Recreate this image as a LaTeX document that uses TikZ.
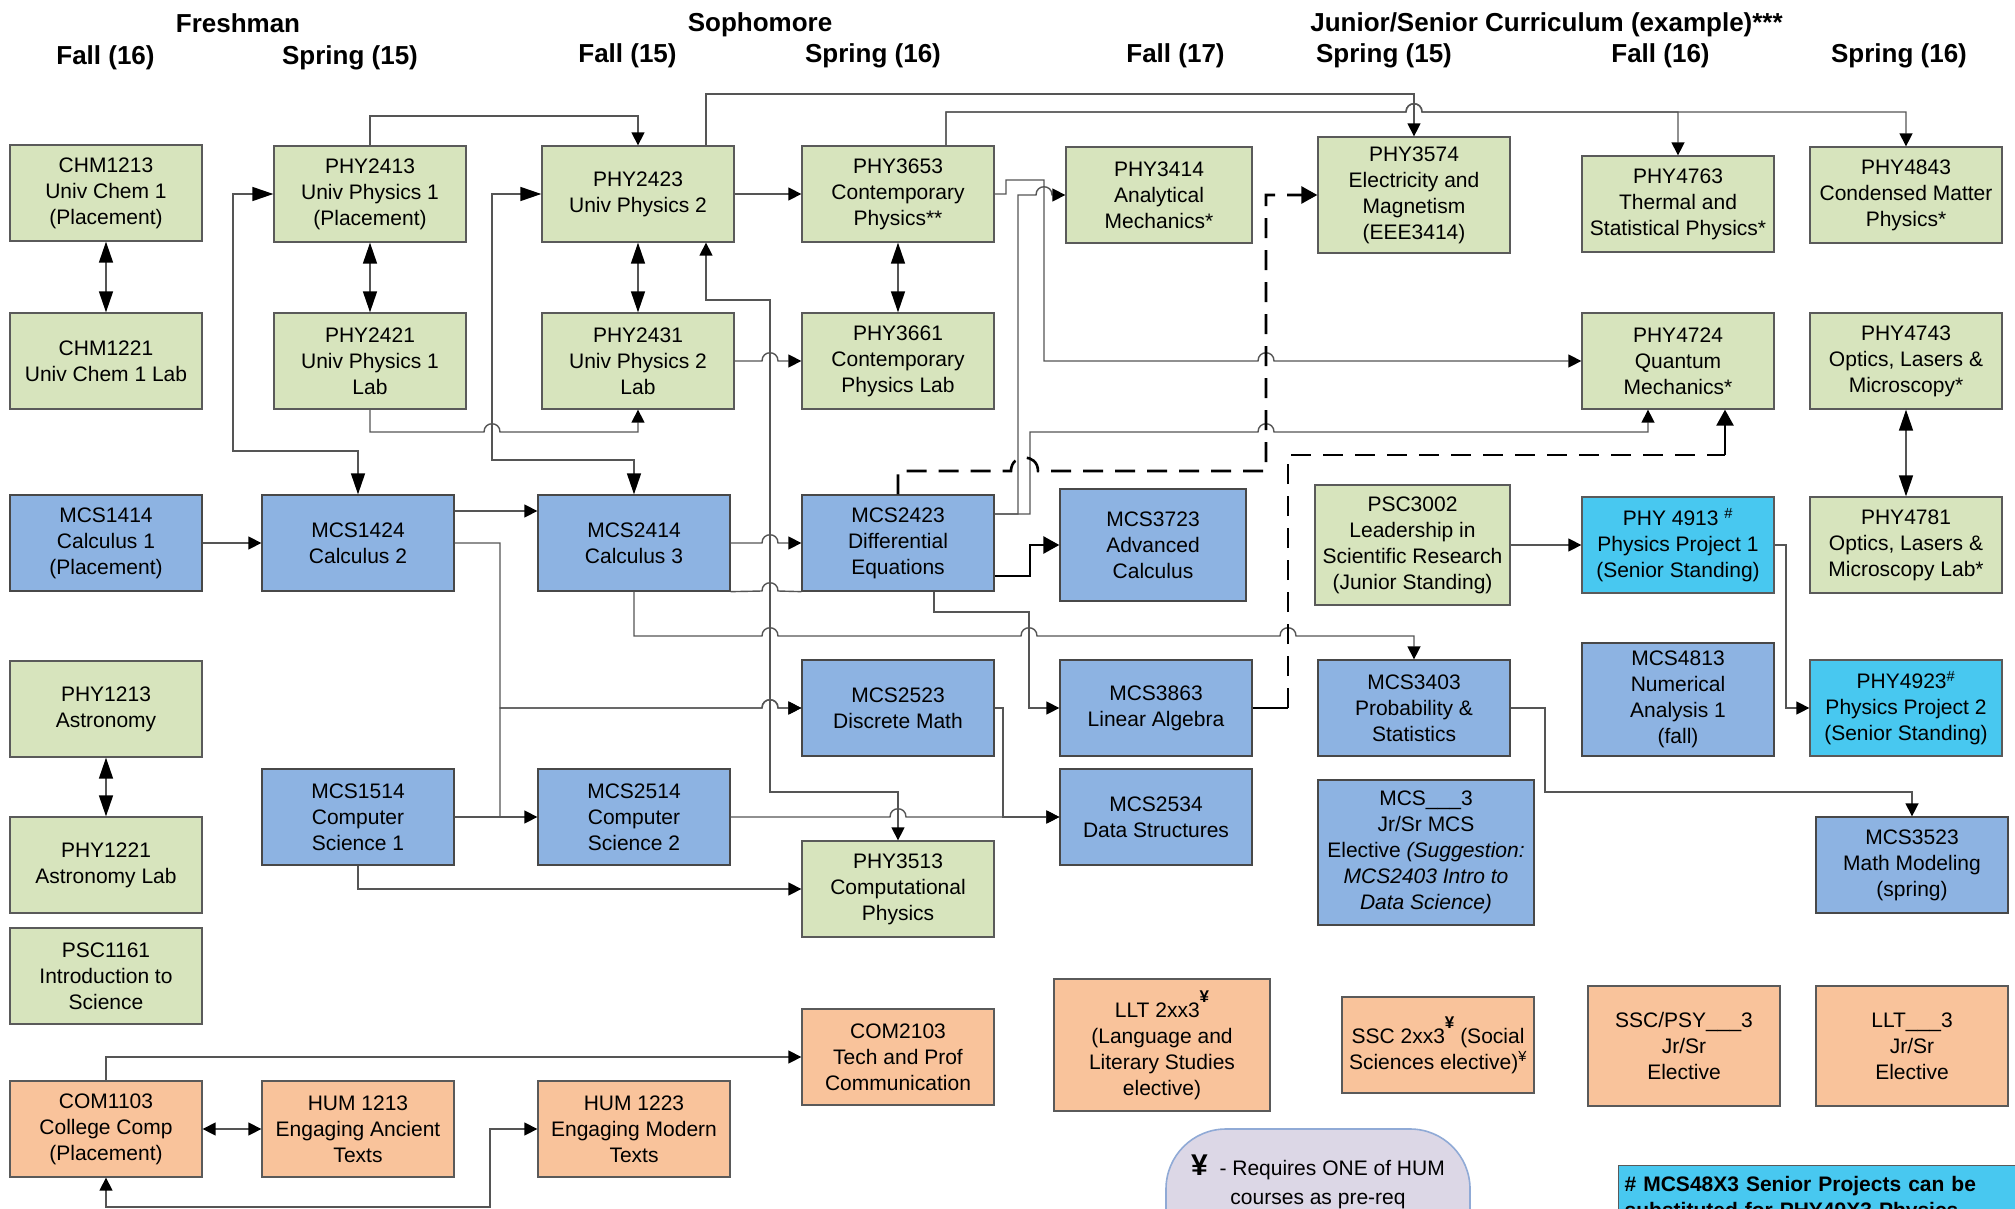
\documentclass[tikz,border=0pt]{standalone}
\usepackage{fontspec}
\setmainfont{Liberation Sans}
\usetikzlibrary{arrows.meta}
\definecolor{cgreen}{HTML}{D7E4BD}
\definecolor{cblue}{HTML}{8DB3E2}
\definecolor{ccyan}{HTML}{48C8F0}
\definecolor{corange}{HTML}{F9C39B}
\definecolor{clav}{HTML}{DCD7E6}
\definecolor{clavline}{HTML}{90AAD6}
\definecolor{boxline}{HTML}{5A5A5A}
\definecolor{lgray}{HTML}{555555}
\newcommand\bigyen{\raisebox{15pt}{\fontsize{17}{17}\selectfont\bfseries ¥}}
\begin{document}
\begin{tikzpicture}[x=1pt,y=-1pt,
  crs/.style={draw=boxline, line width=1.3pt, align=center, inner sep=0pt,
    font=\fontsize{21}{26}\selectfont, minimum width=192pt, minimum height=96pt},
  gbox/.style={crs, fill=cgreen},
  bbox/.style={crs, fill=cblue, draw=boxline!80!black},
  cbox/.style={crs, fill=ccyan},
  obox/.style={crs, fill=corange},
  hdr/.style={font=\fontsize{26}{30}\selectfont\bfseries, inner sep=0pt, anchor=base},
  wire/.style={draw=lgray, line width=1.4pt},
  cs/.style={wire, -{Triangle[length=13pt,width=13pt,color=black]}},
  cd/.style={wire, {Triangle[length=13pt,width=13pt,color=black]}-{Triangle[length=13pt,width=13pt,color=black]}},
  cl/.style={wire, {Triangle[length=21pt,width=14pt,color=black]}-{Triangle[length=21pt,width=14pt,color=black]}},
  ck/.style={draw=black, line width=2.6pt, -{Triangle[length=16pt,width=17pt]}},
  ckd/.style={ck, dash pattern=on 20pt off 12pt},
  hop/.style 2 args={insert path={-- (#1-8,#2) .. controls (#1-8,#2-11) and (#1+8,#2-11) .. (#1+8,#2)}},
  bighop/.style 2 args={insert path={-- (#1-13.5,#2) .. controls (#1-13.5,#2-18) and (#1+13.5,#2-18) .. (#1+13.5,#2)}},
]
\useasboundingbox (0,0) rectangle (2015,1209);
\clip (0,0) rectangle (2015,1209);
\fill[white] (0,0) rectangle (2015,1209);

% headers
\node[hdr] (hfresh) at (238,33) {Freshman};
\node[hdr] (hf1) at (105.5,65) {Fall (16)};
\node[hdr] (hs1) at (350,65) {Spring (15)};
\node[hdr] (hsoph) at (760,32) {Sophomore};
\node[hdr] (hf2) at (627.5,63) {Fall (15)};
\node[hdr] (hs2) at (873,63) {Spring (16)};
\node[hdr] (hf3) at (1175.5,63) {Fall (17)};
\node[hdr] (hs3) at (1384,63) {Spring (15)};
\node[hdr] (hjun) at (1546.5,32) {Junior/Senior Curriculum (example)***};
\node[hdr] (hf4) at (1660.5,63) {Fall (16)};
\node[hdr] (hs4) at (1899,63) {Spring (16)};

% courses
\node[gbox] (chm1213) at (106,193) {CHM1213\\Univ Chem 1\\(Placement)};
\node[gbox] (chm1221) at (106,361) {CHM1221\\Univ Chem 1 Lab};
\node[gbox] (phy2413) at (370,194) {PHY2413\\Univ Physics 1\\(Placement)};
\node[gbox] (phy2421) at (370,361) {PHY2421\\Univ Physics 1\\Lab};
\node[gbox] (phy2423) at (638,194) {PHY2423\\Univ Physics 2};
\node[gbox] (phy2431) at (638,361) {PHY2431\\Univ Physics 2\\Lab};
\node[gbox] (phy3653) at (898,194) {PHY3653\\Contemporary\\Physics**};
\node[gbox] (phy3661) at (898,361) {PHY3661\\Contemporary\\Physics Lab};
\node[gbox, minimum width=186pt] (phy3414) at (1159,195) {PHY3414\\Analytical\\Mechanics*};
\node[gbox, minimum height=116pt] (phy3574) at (1414,195) {PHY3574\\Electricity and\\Magnetism\\(EEE3414)};
\node[gbox] (phy4763) at (1678,204) {PHY4763\\Thermal and\\Statistical Physics*};
\node[gbox] (phy4843) at (1906,195) {PHY4843\\Condensed Matter\\Physics*};
\node[gbox] (phy4724) at (1678,361) {PHY4724\\Quantum\\Mechanics*};
\node[gbox] (phy4743) at (1906,361) {PHY4743\\Optics, Lasers \&\\Microscopy*};
\node[bbox] (mcs1414) at (106,543) {MCS1414\\Calculus 1\\(Placement)};
\node[bbox] (mcs1424) at (358,543) {MCS1424\\Calculus 2};
\node[bbox] (mcs2414) at (634,543) {MCS2414\\Calculus 3};
\node[bbox] (mcs2423) at (898,543) {MCS2423\\Differential\\Equations};
\node[bbox, minimum width=186pt, minimum height=112pt] (mcs3723) at (1153,545) {MCS3723\\Advanced\\Calculus};
\node[gbox, minimum width=195pt, minimum height=120pt] (psc3002) at (1412.5,545) {PSC3002\\Leadership in\\Scientific Research\\(Junior Standing)};
\node[cbox] (phy4913) at (1678,545) {PHY 4913 \textsuperscript{\#}\\Physics Project 1\\(Senior Standing)};
\node[gbox] (phy4781) at (1906,545) {PHY4781\\Optics, Lasers \&\\Microscopy Lab*};
\node[gbox] (phy1213) at (106,709) {PHY1213\\Astronomy};
\node[bbox] (mcs2523) at (898,708) {MCS2523\\Discrete Math};
\node[bbox] (mcs3863) at (1156,708) {MCS3863\\Linear Algebra};
\node[bbox] (mcs3403) at (1414,708) {MCS3403\\Probability \&\\Statistics};
\node[bbox, minimum height=113pt] (mcs4813) at (1678,699.5) {MCS4813\\Numerical\\Analysis 1\\(fall)};
\node[cbox] (phy4923) at (1906,708) {PHY4923\textsuperscript{\#}\\Physics Project 2\\(Senior Standing)};
\node[bbox] (mcs1514) at (358,817) {MCS1514\\Computer\\Science 1};
\node[bbox] (mcs2514) at (634,817) {MCS2514\\Computer\\Science 2};
\node[bbox] (mcs2534) at (1156,817) {MCS2534\\Data Structures};
\node[bbox, minimum width=216pt, minimum height=145pt] (mcsjr) at (1426,852.5) {MCS\_\_\_3\\Jr/Sr MCS\\Elective \textit{(Suggestion:}\\\textit{MCS2403 Intro to}\\\textit{Data Science)}};
\node[bbox] (mcs3523) at (1912,865) {MCS3523\\Math Modeling\\(spring)};
\node[gbox] (phy1221) at (106,865) {PHY1221\\Astronomy Lab};
\node[gbox] (phy3513) at (898,889) {PHY3513\\Computational\\Physics};
\node[gbox] (psc1161) at (106,976) {PSC1161\\Introduction to\\Science};
\node[obox, minimum width=216pt, minimum height=132pt] (llt2xx3) at (1162,1045) {LLT 2xx3\bigyen\\(Language and\\Literary Studies\\elective)};
\node[obox] (ssc2xx3) at (1438,1045) {SSC 2xx3\bigyen{} (Social\\Sciences elective)\textsuperscript{¥}};
\node[obox] (com2103) at (898,1057) {COM2103\\Tech and Prof\\Communication};
\node[obox, minimum height=120pt] (sscpsy) at (1684,1046) {SSC/PSY\_\_\_3\\Jr/Sr\\Elective};
\node[obox, minimum height=120pt] (lltjr) at (1912,1046) {LLT\_\_\_3\\Jr/Sr\\Elective};
\node[obox] (com1103) at (106,1129) {COM1103\\College Comp\\(Placement)};
\node[obox] (hum1213) at (358,1129) {HUM 1213\\Engaging Ancient\\Texts};
\node[obox] (hum1223) at (634,1129) {HUM 1223\\Engaging Modern\\Texts};

% legend and note
\node[draw=clavline, line width=1.6pt, fill=clav, rounded corners=60pt, minimum width=304pt, minimum height=150pt, inner sep=0pt] (legend) at (1318,1204) {};
\node[font=\fontsize{21}{29}\selectfont, align=center, inner sep=0pt] (legendtxt) at (1318,1182) {{\fontsize{30}{30}\selectfont\bfseries ¥}\ \ - Requires ONE of HUM\\courses as pre-req};
\node[draw=boxline, line width=1.3pt, fill=ccyan, anchor=north west, align=left, text width=420pt, inner xsep=6pt, inner ysep=11pt, font=\fontsize{21}{26}\selectfont\bfseries] (note) at (1618,1165) {\# MCS48X3 Senior Projects can be\\substituted for PHY49X3 Physics};

% connectors
\draw[cl] (chm1213) -- (chm1221);
\draw[cl] (phy2413) -- (phy2421);
\draw[cl] (phy2423) -- (phy2431);
\draw[cl] (phy3653) -- (phy3661);
\draw[cl] (phy4743) -- (phy4781);
\draw[cl] (phy1213) -- (phy1221);
\draw[cd] (com1103) -- (hum1213);
\draw[cs] (mcs1414) -- (mcs1424);
\draw[cs] (phy2413.north) |- (638,116) -- (phy2423.north);
\draw[cl] (phy2413.west) -| (233,451) -| (mcs1424.north);
\draw[cl] (phy2423.west) -| (492,460) -| (mcs2414.north);
\draw[cs] (phy2421.south) -- (370,432) [hop={492}{432}] -- (638,432) -- (phy2431.south);
\draw[cs] (phy2423) -- (phy3653);
\draw[cs] (phy2431.east) [hop={770}{361}] -- (phy3661.west);
\draw[cd] (phy2423.south -| 706,0) -- (706,300) -- (770,300) -- (770,792) -- (898,792) -- (phy3513.north);
\draw[cs] (mcs1424.east |- 0,511) -- (mcs2414.west |- 0,511);
\draw[cs] (mcs1424.east |- 0,543) -- (500,543) -- (500,708) [hop={770}{708}] -- (mcs2523.west);
\draw[cs] (mcs1514.east) -| (500,708) [hop={770}{708}] -- (mcs2523.west);
\draw[cs] (mcs1514) -- (mcs2514);
\draw[cs] (mcs1514.south) |- (phy3513.west);
\draw[cs] (mcs2514.east) [hop={898}{817}] -- (mcs2534.west);
\draw[cs] (mcs2523.east) -- (1003,708) -- (1003,817) -- (mcs2534.west);
\draw[cs] (mcs2414.east) [hop={770}{543}] -- (mcs2423.west);
\draw[wire] (mcs2414.south east) [hop={770}{591}] -- (mcs2423.south west);
\draw[cs] (mcs2414.south) -- (634,636) [hop={770}{636}] [hop={1029}{636}] [hop={1288}{636}] -- (1414,636) -- (mcs3403.north);
\draw[cs] (mcs2423.south -| 934,0) -- (934,612) -- (1029,612) -- (1029,708) -- (mcs3863.west);
\draw[cs] (mcs2423.east |- 0,514) -- (1018,514) -- (1018,195) [hop={1044}{195}] -- (phy3414.west);
\draw[cs] (mcs2423.east |- 0,514) -- (1030,514) -- (1030,432) [hop={1266}{432}] -- (1648,432) -- (phy4724.south -| 1648,0);
\draw[cs] (phy3653.east) -- (1006,194) -- (1006,180) -- (1044,180) -- (1044,361) [hop={1266}{361}] -- (phy4724.west);
\draw[ck] (mcs2423.east |- 0,576) -- (1030,576) -- (1030,545) -- (mcs3723.west);
\draw[cs] (phy2423.north -| 706,0) -- (706,94) -- (1414,94) -- (phy3574.north);
\draw[cs] (phy3653.north -| 946,0) -- (946,112) [hop={1414}{112}] -- (1678,112) -- (phy4763.north);
\draw[cs] (phy3653.north -| 946,0) -- (946,112) [hop={1414}{112}] -- (1906,112) -- (phy4843.north);
\draw[ckd] (mcs2423.north) -- (898,471) [bighop={1024.5}{471}] -- (1266,471) -- (1266,195) -- (phy3574.west);
\coordinate (dB) at (1288,708);
\coordinate (dC) at (1725,455);
\draw[ck, -] (mcs3863.east) -- (dB);
\draw[ck, -, dash pattern=on 20pt off 12pt] (dB) -- (1288,455) -- (dC);
\draw[ck] (dC) -- (phy4724.south -| dC);
\draw[cs] (psc3002) -- (phy4913);
\draw[cs] (phy4913.east) -- (1786,545) -- (1786,708) -- (phy4923.west);
\draw[cs] (mcs3403.east) -- (1545,708) -- (1545,792) -- (1912,792) -- (mcs3523.north);
\draw[cs] (com1103.north) |- (com2103.west);
\draw[cd] (com1103.south) -- (106,1207) -- (490,1207) -- (490,1129) -- (hum1223.west);
\end{tikzpicture}
\end{document}
